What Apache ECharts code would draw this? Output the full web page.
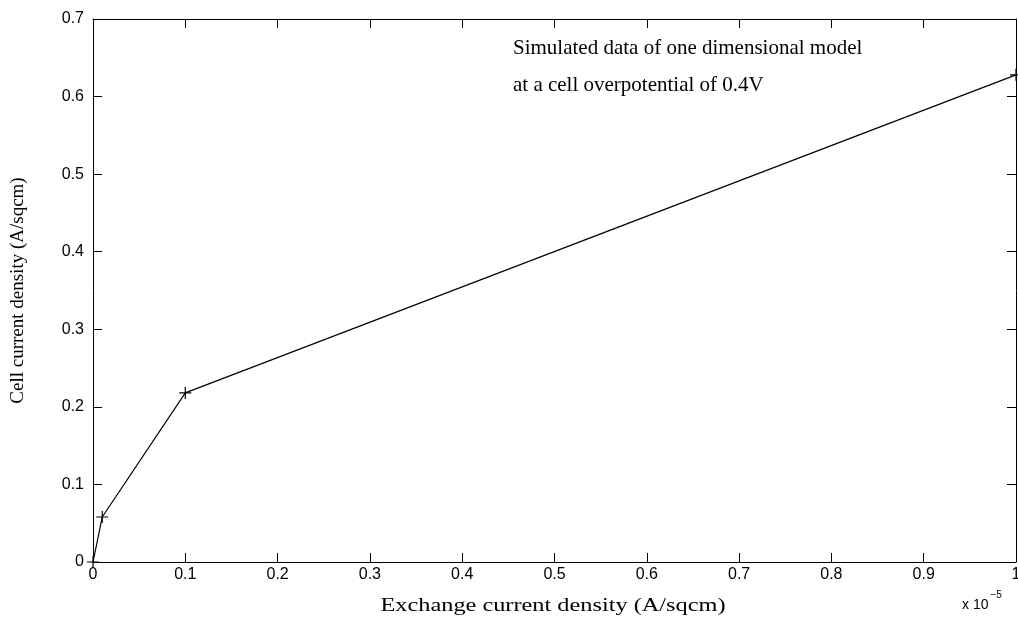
<!DOCTYPE html>
<html>
<head>
<meta charset="utf-8">
<script src="https://cdn.jsdelivr.net/npm/echarts@6/dist/echarts.min.js"></script>
<style>
  html, body { margin: 0; padding: 0; background: #fff; }
  #chart { width: 1018px; height: 619px; }
</style>
</head>
<body>
<div id="chart"></div>
<script>
// exchange current density (x 1e-5 A/sqcm) vs cell current density (A/sqcm)
var exchangeDensity = [0, 0.01, 0.1, 1]
var cellDensity = [0, 0.058, 0.218, 0.628]
var xTicks = [0, 0.1, 0.2, 0.3, 0.4, 0.5, 0.6, 0.7, 0.8, 0.9, 1]
var yTicks = [0, 0.1, 0.2, 0.3, 0.4, 0.5, 0.6, 0.7]

var chart = echarts.init(document.getElementById('chart'))
var sans = 'Liberation Sans, Arial, sans-serif'
var serif = 'Liberation Serif, Times New Roman, serif'

var points = exchangeDensity.map(function (x, i) { return [x, cellDensity[i]] })

function fmt(v) {
  return v === 0 ? '0' : String(Math.round(v * 10) / 10)
}

var tickLabel = { color: '#000', fontFamily: sans, fontSize: 16, formatter: fmt }
var axisLine = { show: true, onZero: false, lineStyle: { color: '#000', width: 1 } }
var axisTick = { show: true, inside: true, length: 9, lineStyle: { color: '#000' } }

var option = {
  animation: false,
  backgroundColor: '#fff',
  grid: { left: 93, right: 2, top: 19, bottom: 57, outerBoundsMode: 'none', containLabel: false },
  xAxis: [
    {
      type: 'value', min: xTicks[0], max: xTicks[xTicks.length - 1], interval: 0.1,
      axisLine: axisLine, axisTick: axisTick, splitLine: { show: false },
      axisLabel: Object.assign({ margin: 5 }, tickLabel)
    },
    {
      type: 'value', position: 'top', min: xTicks[0], max: xTicks[xTicks.length - 1], interval: 0.1,
      axisLine: axisLine, axisTick: axisTick, splitLine: { show: false },
      axisLabel: { show: false }
    }
  ],
  yAxis: [
    {
      type: 'value', min: yTicks[0], max: yTicks[yTicks.length - 1], interval: 0.1,
      axisLine: axisLine, axisTick: axisTick, splitLine: { show: false },
      axisLabel: Object.assign({ margin: 9 }, tickLabel),
      name: 'Cell current density (A/sqcm)',
      nameLocation: 'middle', nameGap: 65, nameRotate: 90,
      nameTextStyle: { color: '#000', fontFamily: serif, fontSize: 19 }
    },
    {
      type: 'value', position: 'right', min: yTicks[0], max: yTicks[yTicks.length - 1], interval: 0.1,
      axisLine: axisLine, axisTick: axisTick, splitLine: { show: false },
      axisLabel: { show: false }
    }
  ],
  graphic: [
    {
      type: 'text', x: 553, y: 606, scaleX: 1.28,
      style: {
        text: 'Exchange current density (A/sqcm)', fill: '#000', font: '19px ' + serif,
        textAlign: 'center', textVerticalAlign: 'middle'
      }
    },
    {
      type: 'text', x: 513, y: 48,
      style: {
        text: 'Simulated data of one dimensional model', fill: '#000', font: '21px ' + serif,
        textVerticalAlign: 'middle'
      }
    },
    {
      type: 'text', x: 513, y: 85,
      style: {
        text: 'at a cell overpotential of 0.4V', fill: '#000', font: '21px ' + serif,
        textVerticalAlign: 'middle'
      }
    },
    {
      type: 'text', left: 962, top: 590,
      style: {
        text: '{b|x 10}{s|\u22125}',
        fill: '#000',
        rich: {
          b: { fontFamily: sans, fontSize: 14, fill: '#000', verticalAlign: 'bottom', lineHeight: 22 },
          s: { fontFamily: sans, fontSize: 10, fill: '#000', verticalAlign: 'top', lineHeight: 22, padding: [0, 0, 10, 2] }
        }
      }
    }
  ],
  series: [
    {
      type: 'line',
      data: points,
      symbol: 'path://M0,-10L0,10M-10,0L10,0',
      symbolSize: 12,
      showAllSymbol: true,
      lineStyle: { color: '#000', width: 1.2 },
      itemStyle: { color: 'none', borderColor: '#000', borderWidth: 1.2 }
    }
  ]
}

chart.setOption(option)
</script>
</body>
</html>
